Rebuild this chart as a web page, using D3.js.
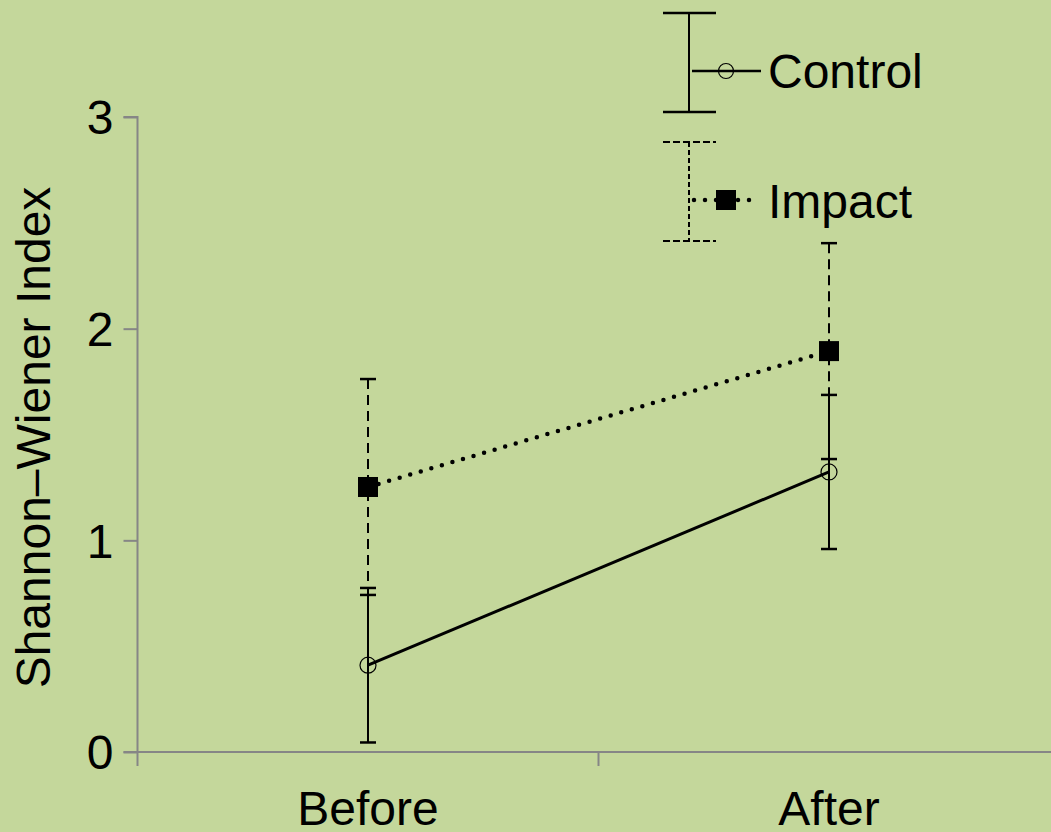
<!DOCTYPE html>
<html><head><meta charset="utf-8">
<script src="https://cdn.jsdelivr.net/npm/d3@7"></script>
<style>body{margin:0;background:#C4D79B;overflow:hidden}svg{display:block}text{font-family:"Liberation Sans",Arial,sans-serif}</style>
</head><body><svg id="c" width="1051" height="832"></svg>
<script>
const categories = ["Before", "After"];
const controlMean = [0.41, 1.323];
const controlErr = [0.365, 0.364];
const impactMean = [1.252, 1.894];
const impactErr = [0.51, 0.51];
const yTicks = [0, 1, 2, 3];
const seriesNames = ["Control", "Impact"];

const svg = d3.select("#c");
svg.append("rect").attr("width",1051).attr("height",832).attr("fill","#C4D79B");
const x0 = 137.5, yBase = 752;
const x = d3.scaleBand().domain(categories).range([x0, x0 + 922]);
const y = d3.scaleLinear().domain([0, 3]).range([yBase, 117]);
const axisCol = "#868686";

// y axis
const ya = svg.append("g").attr("transform",`translate(${x0},0)`)
  .call(d3.axisLeft(y).tickValues(yTicks).tickSize(14).tickPadding(10).tickFormat(d3.format("d")));
ya.select(".domain").attr("stroke",axisCol).attr("stroke-width",2).attr("d",`M-14,${y(3)}H0V${yBase}`);
ya.selectAll(".tick line").attr("stroke",axisCol).attr("stroke-width",2);
ya.selectAll(".tick text").attr("font-size",48).attr("fill","#000").attr("font-family","Liberation Sans, Arial, sans-serif").attr("dy","0.35em");

// x axis
const xa = svg.append("g").attr("transform",`translate(0,${yBase})`)
  .call(d3.axisBottom(x).tickSize(0).tickPadding(39));
xa.select(".domain").attr("stroke",axisCol).attr("stroke-width",2).attr("d",`M${x0-14},0H1060`);
xa.selectAll(".tick text").attr("font-size",48).attr("fill","#000").attr("font-family","Liberation Sans, Arial, sans-serif");
const bounds = [x0, x0 + x.step()];
svg.append("g").selectAll("line").data(bounds).join("line")
  .attr("x1",d=>d).attr("x2",d=>d).attr("y1",yBase).attr("y2",yBase+14)
  .attr("stroke",axisCol).attr("stroke-width",2);

// y title
svg.append("text").attr("transform",`translate(50,${(y(0)+y(3))/2+3}) rotate(-90)`)
  .attr("text-anchor","middle").attr("font-size",48).attr("fill","#000").text("Shannon\u2013Wiener Index");

const cx = d => x(d) + x.bandwidth()/2;
const cap = 8;

function errBars(means, errs, dash){
  const g = svg.append("g").attr("stroke","#000").attr("stroke-width",2).attr("fill","none");
  categories.forEach((c,i)=>{
    const xx = cx(c), t = y(means[i]+errs[i]), b = y(means[i]-errs[i]);
    g.append("line").attr("x1",xx).attr("x2",xx).attr("y1",t).attr("y2",b).attr("stroke-dasharray",dash);
    g.append("line").attr("x1",xx-cap).attr("x2",xx+cap).attr("y1",t).attr("y2",t).attr("stroke-width",2.5);
    g.append("line").attr("x1",xx-cap).attr("x2",xx+cap).attr("y1",b).attr("y2",b).attr("stroke-width",2.5);
  });
}
errBars(impactMean, impactErr, "10,6");
errBars(controlMean, controlErr, null);

// lines
const line = vals => d3.line().x((d,i)=>cx(categories[i])).y(d=>y(d))(vals);
svg.append("path").attr("d",line(controlMean)).attr("stroke","#000").attr("stroke-width",3).attr("fill","none");
svg.append("path").attr("d",line(impactMean)).attr("stroke","#000").attr("stroke-width",4.5)
  .attr("stroke-linecap","round").attr("stroke-dasharray","0,11").attr("fill","none");

// markers
svg.append("g").selectAll("circle").data(controlMean).join("circle")
  .attr("cx",(d,i)=>cx(categories[i])).attr("cy",d=>y(d)).attr("r",8)
  .attr("fill","none").attr("stroke","#000").attr("stroke-width",1.2);
svg.append("g").selectAll("rect").data(impactMean).join("rect")
  .attr("x",(d,i)=>cx(categories[i])-10).attr("y",d=>y(d)-10).attr("width",20).attr("height",20).attr("fill","#000");

// legend
const lg = svg.append("g").attr("transform","translate(689,0)");
// control entry
lg.append("line").attr("x1",0).attr("x2",0).attr("y1",13).attr("y2",112).attr("stroke","#000").attr("stroke-width",2);
[13,112].forEach(v=>lg.append("line").attr("x1",-26).attr("x2",27).attr("y1",v).attr("y2",v).attr("stroke","#000").attr("stroke-width",2.5));
lg.append("line").attr("x1",3).attr("x2",72).attr("y1",71).attr("y2",71).attr("stroke","#000").attr("stroke-width",2.5);
lg.append("circle").attr("cx",37).attr("cy",71).attr("r",7.5).attr("fill","none").attr("stroke","#000").attr("stroke-width",1.2);
lg.append("text").attr("x",79).attr("y",88).attr("font-size",48).attr("fill","#000").text(seriesNames[0]);
// impact entry
lg.append("line").attr("x1",0).attr("x2",0).attr("y1",142).attr("y2",241).attr("stroke","#000").attr("stroke-width",2).attr("stroke-dasharray","5,3");
[142,241].forEach(v=>lg.append("line").attr("x1",-26).attr("x2",27).attr("y1",v).attr("y2",v).attr("stroke","#000").attr("stroke-width",2).attr("stroke-dasharray","7,3"));
lg.append("line").attr("x1",5).attr("x2",68).attr("y1",200).attr("y2",200).attr("stroke","#000").attr("stroke-width",4.5)
  .attr("stroke-linecap","round").attr("stroke-dasharray","0,11");
lg.append("rect").attr("x",27).attr("y",190).attr("width",20).attr("height",20).attr("fill","#000");
lg.append("text").attr("x",79).attr("y",218).attr("font-size",48).attr("fill","#000").text(seriesNames[1]);
</script></body></html>
